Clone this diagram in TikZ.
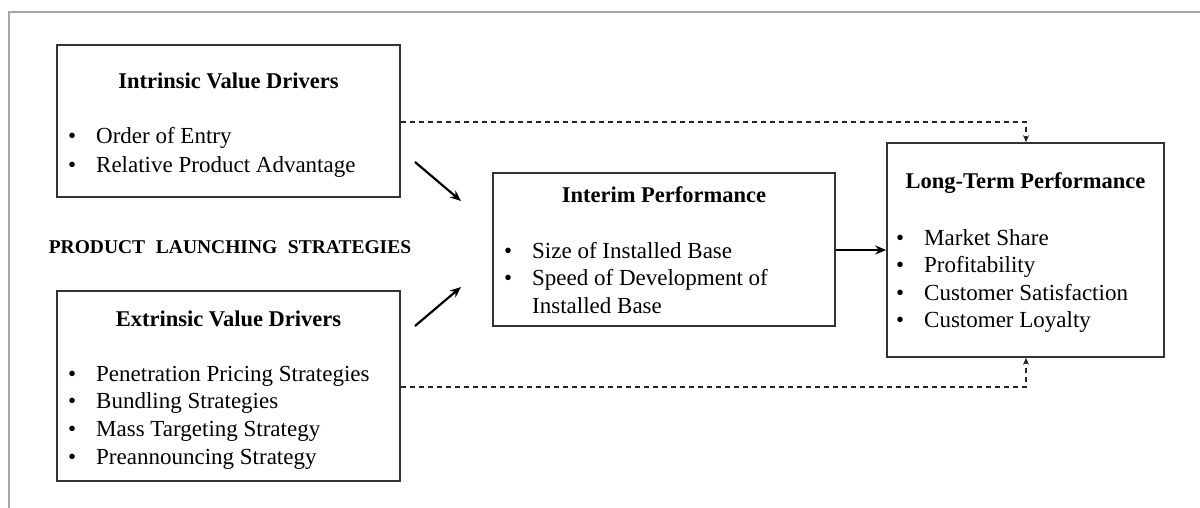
\documentclass[tikz,border=0pt]{standalone}
\usepackage{fontspec}
\setmainfont{Liberation Serif}
\usetikzlibrary{arrows.meta}
\begin{document}
\begin{tikzpicture}[x=1pt,y=-1pt,
  box/.style={draw=black!80,line width=1.6pt,rectangle,inner sep=0pt},
  ttl/.style={anchor=base,inner sep=0pt,font=\fontsize{22.5}{27}\selectfont\bfseries},
  itm/.style={anchor=base west,inner sep=0pt,font=\fontsize{23}{27}\selectfont},
  solidarrow/.style={line width=2.2pt,-{Stealth[length=11pt,width=9pt]}},
  dasharrow/.style={line width=1.8pt,black!85,dash pattern=on 5.5pt off 3.5pt,-{Stealth[length=7pt,width=6pt]}}]
\useasboundingbox (0,0) rectangle (1200,508);
\draw[black!35,line width=1.4pt] (9,508) -- (9,12) -- (1200,12);
% boxes
\node[box,minimum width=343pt,minimum height=152pt] (intr) at (228.5,121) {};
\node[box,minimum width=343pt,minimum height=190pt] (extr) at (228.5,386) {};
\node[box,minimum width=342pt,minimum height=153pt] (inter) at (664,249.5) {};
\node[box,minimum width=277pt,minimum height=214pt] (lt) at (1025.5,250) {};
% titles
\node[ttl] (t1) at (228.5,89) {Intrinsic Value Drivers};
\node[ttl] (t2) at (228.5,326) {Extrinsic Value Drivers};
\node[ttl] (t3) at (664,203) {Interim Performance};
\node[ttl] (t4) at (1025.5,189) {Long-Term Performance};
\node[anchor=base,inner sep=0pt,font=\fontsize{19.5}{24}\selectfont\bfseries] (pls) at (230,253)
  {PRODUCT\hspace{0.55em}LAUNCHING\hspace{0.55em}STRATEGIES};
% items
\newcommand\bitem[4]{\node[itm] (#1) at (#2,#3) {\makebox[28pt][l]{•}#4};}
\bitem{i1}{68}{144}{Order of Entry}
\bitem{i2}{68}{172}{Relative Product Advantage}
\bitem{e1}{68}{381}{Penetration Pricing Strategies}
\bitem{e2}{68}{408.5}{Bundling Strategies}
\bitem{e3}{68}{436}{Mass Targeting Strategy}
\bitem{e4}{68}{464}{Preannouncing Strategy}
\bitem{m1}{504}{258}{Size of Installed Base}
\bitem{m2}{504}{285.5}{Speed of Development of}
\node[itm] (m3) at (532,313) {Installed Base};
\bitem{l1}{896}{245}{Market Share}
\bitem{l2}{896}{272.5}{Profitability}
\bitem{l3}{896}{300}{Customer Satisfaction}
\bitem{l4}{896}{327.5}{Customer Loyalty}
% connectors
\coordinate (a1s) at (415,162);
\coordinate (a1e) at (461,201);
\coordinate (a2s) at (415,326);
\coordinate (a2e) at (461,287);
\draw[solidarrow] (a1s) -- (a1e);
\draw[solidarrow] (a2s) -- (a2e);
\draw[solidarrow] (inter.east |- lt.west) -- (lt.west);
\draw[dasharrow] (intr.east |- 0,122) -- (1026,122) -- (lt.north -| 1026,0);
\draw[dasharrow] (extr.east |- 0,387) -- (1026,387) -- (lt.south -| 1026,0);
\end{tikzpicture}
\end{document}
